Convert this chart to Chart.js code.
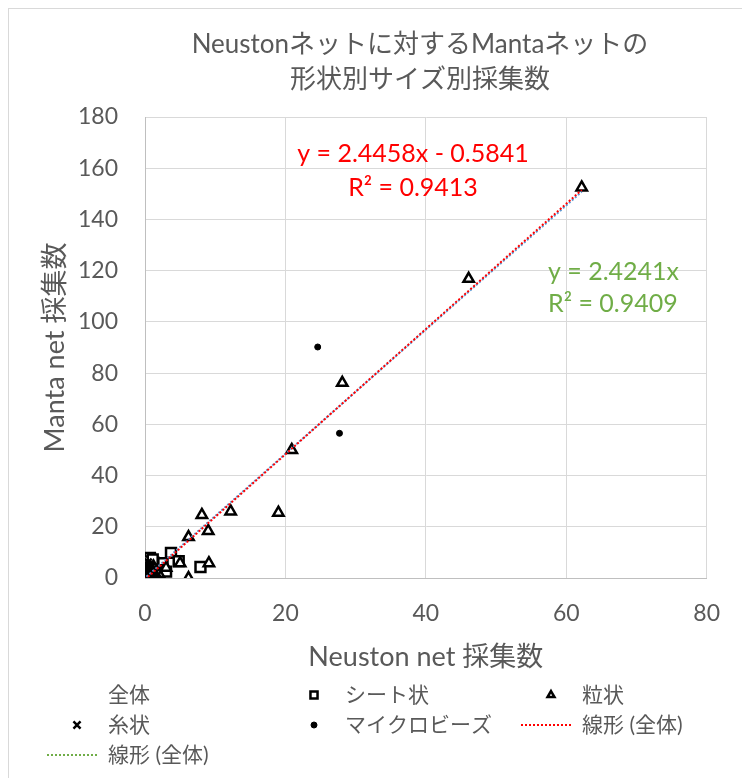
<!DOCTYPE html>
<html>
<head>
<meta charset="utf-8">
<script src="https://cdn.jsdelivr.net/npm/chart.js@4"></script>
<style>
  html, body { margin: 0; background: #fff; }
</style>
</head>
<body>
<canvas id="chart" width="742" height="778"></canvas>
<script>
// シート状
const sheetX = [0.2, 0.5, 0.7, 1.0, 1.5, 2.5, 3.7, 4.8, 7.9, 0.3, 1.2, 2.0, 3.0, 0.1, 0.4, 0.6, 0.9, 1.3, 0.2, 1.1];
const sheetY = [2, 3, 7.8, 1, 4, 5.8, 9.8, 6.6, 4.3, 5, 6, 3, 2.5, 1.5, 0.5, 4.5, 2.5, 1.5, 6.5, 7.2];
// 粒状
const grainX = [62.2, 46.1, 28.1, 20.9, 19.0, 12.2, 8.1, 9.0, 6.2, 9.1, 5.0, 6.2, 1.0, 0.4, 2.0, 3.0, 0.7, 1.2, 0.3];
const grainY = [152.5, 116.8, 76.2, 50, 25.5, 26, 24.6, 18.4, 16, 5.8, 5.8, 0, 3, 1, 1.5, 4, 2, 4.5, 3];
// 糸状
const fiberX = [0.1, 0.3, 0.5, 0.8, 0.2, 1.0, 1.6, 0.4, 0.6, 1.3, 0.15, 0.7, 1.9, 0.05, 0.25, 0.45, 0.9, 1.1, 0.35, 0.6, 1.5, 0.2];
const fiberY = [1, 2, 0.5, 3, 4, 2, 0.5, 3.5, 1.2, 2.8, 2.5, 4.8, 1.5, 3.2, 5.5, 6.2, 4.2, 1.2, 0.2, 2.2, 2.4, 1.6];
// マイクロビーズ
const beadX = [24.6, 27.7, 0.1, 0.3, 0.6, 0.9, 0.2, 1.2, 0.5, 0.8, 1.4, 0.05, 1.0, 0.4, 0.7, 0.15, 1.1, 0.55];
const beadY = [90.2, 56.5, 0.5, 1.5, 2.5, 1, 3, 0.3, 4, 5.5, 3.5, 2, 0.5, 4.8, 3.6, 4.2, 2.2, 1.8];
// trendline ends
const trendX = [0, 62.2];
const trendRedY = [-0.6, 151.5];
const trendGreenY = [0, 150.8];

const xTicks = [0, 20, 40, 60, 80];
const yTicks = [0, 20, 40, 60, 80, 100, 120, 140, 160, 180];

const FONT = "Lato, 'Noto Sans CJK JP', sans-serif";
const GRAY = '#595959';

function pts(xs, ys) {
  return xs.map((x, i) => ({ x: x, y: ys[i] }));
}

const allPts = pts(sheetX, sheetY).concat(pts(grainX, grainY), pts(fiberX, fiberY), pts(beadX, beadY));

const extras = {
  id: 'extras',
  beforeDraw(chart) {
    const ctx = chart.ctx;
    ctx.save();
    ctx.strokeStyle = '#d9d9d9';
    ctx.lineWidth = 1;
    ctx.strokeRect(8.5, 8.5, 760, 800);
    ctx.restore();
  },
  afterDraw(chart) {
    const ctx = chart.ctx;
    const area = chart.chartArea;
    ctx.save();
    ctx.fillStyle = GRAY;
    ctx.textBaseline = 'middle';
    ctx.textAlign = 'center';
    // title
    ctx.font = '26px ' + FONT;
    ctx.fillText('Neustonネットに対するMantaネットの', 420, 45);
    ctx.fillText('形状別サイズ別採集数', 420, 80);
    // axis titles
    ctx.font = '27px ' + FONT;
    ctx.fillText('Neuston net 採集数', (area.left + area.right) / 2, 657);
    ctx.save();
    ctx.translate(55, (area.top + area.bottom) / 2);
    ctx.rotate(-Math.PI / 2);
    ctx.fillText('Manta net 採集数', 0, 0);
    ctx.restore();
    // trendline labels
    ctx.font = '25px ' + FONT;
    ctx.fillStyle = '#ff0000';
    ctx.fillText('y = 2.4458x - 0.5841', 413, 154);
    ctx.fillText('R² = 0.9413', 413, 188);
    ctx.fillStyle = '#70ad47';
    ctx.textAlign = 'left';
    ctx.fillText('y = 2.4241x', 548, 272);
    ctx.fillText('R² = 0.9409', 548, 304);

    // legend, three columns
    const textX = [108, 345, 582];
    const rowY = [695, 725, 755];
    ctx.font = '21px ' + FONT;
    chart.data.datasets.forEach((ds, i) => {
      const col = i % 3, row = Math.floor(i / 3);
      const tx = textX[col], ty = rowY[row];
      if (ds.showLine) {
        ctx.save();
        ctx.strokeStyle = ds.legendColor;
        ctx.lineWidth = 2;
        ctx.setLineDash([2, 2]);
        ctx.beginPath();
        ctx.moveTo(tx - 61, ty);
        ctx.lineTo(tx - 9, ty);
        ctx.stroke();
        ctx.restore();
      } else if (ds.pointRadius > 0) {
        ctx.save();
        ctx.fillStyle = ds.backgroundColor;
        ctx.strokeStyle = ds.borderColor;
        ctx.lineWidth = ds.borderWidth;
        Chart.helpers.drawPoint(ctx, {
          pointStyle: ds.pointStyle,
          radius: ds.legendRadius,
          borderWidth: ds.borderWidth
        }, tx - 31, ty);
        ctx.restore();
      }
      ctx.fillStyle = GRAY;
      ctx.textAlign = 'left';
      ctx.fillText(ds.label, tx, ty);
    });
    ctx.restore();
  }
};

// higher order is painted first, so later series sit on top like in Excel
new Chart(document.getElementById('chart'), {
  type: 'scatter',
  data: {
    datasets: [
      { label: '全体', data: allPts, pointRadius: 0, pointHoverRadius: 0, order: 5 },
      { label: 'シート状', data: pts(sheetX, sheetY), pointStyle: 'rect', pointRadius: 7, legendRadius: 5,
        borderColor: '#000', backgroundColor: '#fff', borderWidth: 2.5, order: 4 },
      { label: '粒状', data: pts(grainX, grainY), pointStyle: 'triangle', pointRadius: 6, legendRadius: 4,
        borderColor: '#000', backgroundColor: '#fff', borderWidth: 2.5, order: 3 },
      { label: '糸状', data: pts(fiberX, fiberY), pointStyle: 'crossRot', pointRadius: 5, legendRadius: 5,
        borderColor: '#000', backgroundColor: '#000', borderWidth: 2.5, order: 2 },
      { label: 'マイクロビーズ', data: pts(beadX, beadY), pointStyle: 'circle', pointRadius: 3, legendRadius: 3,
        borderColor: '#000', backgroundColor: '#000', borderWidth: 1, order: 1 },
      { label: '線形 (全体)', data: pts(trendX, trendRedY), showLine: true, pointRadius: 0,
        borderColor: '#ff0000', legendColor: '#ff0000', borderWidth: 2, borderDash: [2, 2], order: 0 },
      { label: '線形 (全体)', data: pts(trendX, trendGreenY), showLine: true, pointRadius: 0,
        borderColor: '#5b9bd5', legendColor: '#70ad47', borderWidth: 2, borderDash: [2, 2], borderDashOffset: 2, order: 0 }
    ]
  },
  options: {
    responsive: false,
    animation: false,
    layout: { padding: { top: 117, right: 29, left: 0, bottom: 140 } },
    plugins: { legend: { display: false }, tooltip: { enabled: false } },
    scales: {
      x: {
        type: 'linear', min: 0, max: 80,
        afterBuildTicks: s => { s.ticks = xTicks.map(v => ({ value: v })); },
        afterFit: s => { s.height = 60; },
        grid: { color: '#d9d9d9', drawTicks: false },
        border: { color: '#bfbfbf' },
        ticks: { padding: 22, color: GRAY, font: { family: FONT, size: 23 } }
      },
      y: {
        type: 'linear', min: 0, max: 180,
        afterBuildTicks: s => { s.ticks = yTicks.map(v => ({ value: v })); },
        afterFit: s => { s.width = 145; },
        grid: { color: '#d9d9d9', drawTicks: false },
        border: { color: '#bfbfbf' },
        ticks: { padding: 27, color: GRAY, font: { family: FONT, size: 23 } }
      }
    }
  },
  plugins: [extras]
});
</script>
</body>
</html>
